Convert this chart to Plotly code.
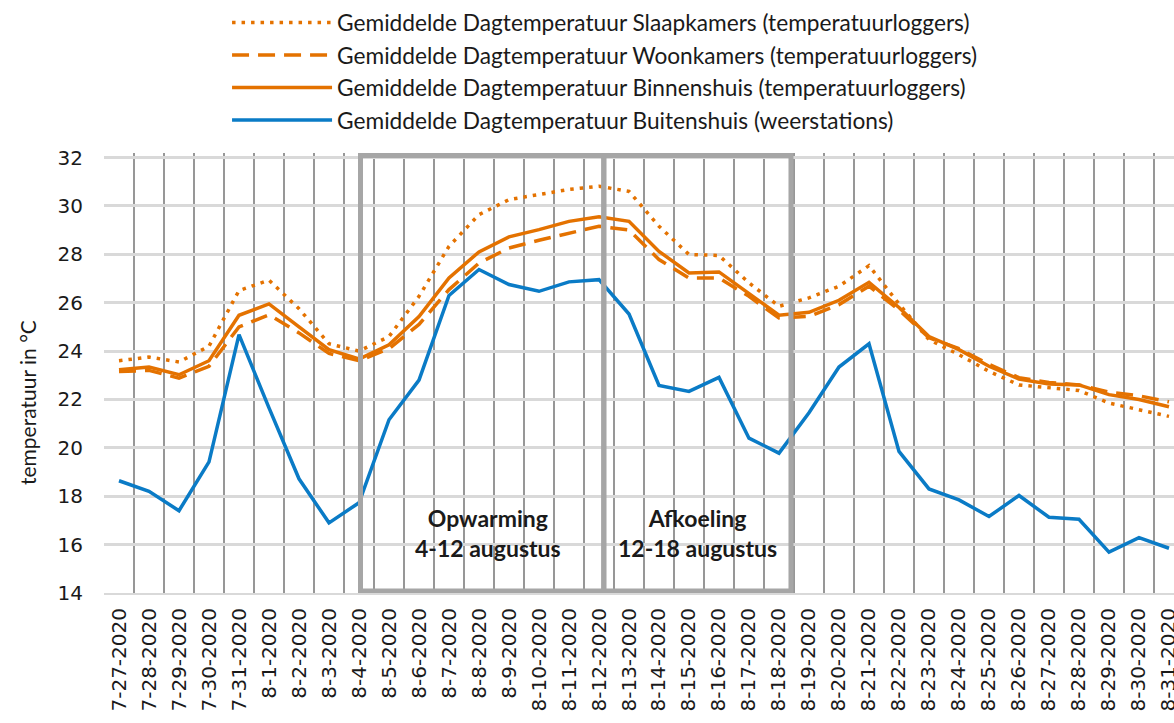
import plotly.graph_objects as go

dates = ["7-27-2020", "7-28-2020", "7-29-2020", "7-30-2020", "7-31-2020"] + \
        [f"8-{d}-2020" for d in range(1, 32)]

slaapkamers = [23.6, 23.75, 23.55, 24.2, 26.5, 26.93, 25.75, 24.3, 24.0,
               24.6, 26.26, 28.33, 29.64, 30.26, 30.47, 30.68, 30.81, 30.6,
               29.16, 27.99, 27.95, 26.82, 25.85, 26.2, 26.68, 27.53, 25.95,
               24.47, 23.85, 23.16, 22.6, 22.47, 22.37, 21.85, 21.57, 21.3]

woonkamers = [23.15, 23.2, 22.88, 23.37, 25.0, 25.5, 24.75, 23.9, 23.6,
              24.1, 25.1, 26.54, 27.64, 28.26, 28.58, 28.88, 29.16, 29.0,
              27.78, 27.02, 27.02, 26.26, 25.37, 25.43, 25.92, 26.68, 25.7,
              24.55, 24.1, 23.45, 22.9, 22.7, 22.6, 22.3, 22.15, 21.9]

binnenshuis = [23.23, 23.34, 23.02, 23.6, 25.48, 25.95, 25.0, 24.06, 23.67,
               24.26, 25.43, 27.02, 28.1, 28.72, 29.02, 29.36, 29.55, 29.36,
               28.12, 27.23, 27.27, 26.37, 25.48, 25.6, 26.1, 26.84, 25.8,
               24.6, 24.06, 23.37, 22.84, 22.64, 22.6, 22.2, 22.0, 21.7]

buitenshuis = [18.64, 18.2, 17.4, 19.42, 24.68, 21.65, 18.72, 16.9, 17.73,
               21.16, 22.8, 26.3, 27.37, 26.75, 26.47, 26.86, 26.95, 25.53,
               22.58, 22.33, 22.91, 20.4, 19.78, 21.45, 23.34, 24.3, 19.85,
               18.3, 17.85, 17.16, 18.03, 17.13, 17.05, 15.69, 16.29, 15.85]

names = [
    "Gemiddelde Dagtemperatuur Slaapkamers (temperatuurloggers)",
    "Gemiddelde Dagtemperatuur Woonkamers (temperatuurloggers)",
    "Gemiddelde Dagtemperatuur Binnenshuis (temperatuurloggers)",
    "Gemiddelde Dagtemperatuur Buitenshuis (weerstations)",
]

periods = [
    ("8-4-2020", "8-12-2020", "Opwarming<br>4-12 augustus"),
    ("8-12-2020", "8-18-2020", "Afkoeling<br>12-18 augustus"),
]

yticks = [14, 16, 18, 20, 22, 24, 26, 28, 30, 32]
ytitle = "temperatuur in °C"

ORANGE = "#e47200"
BLUE = "#0a7bc6"
BOX = "#a6a6a6"
TXT = "#1a1a1a"
LEGEND_FONT = "Lato"

fig = go.Figure()
series = [slaapkamers, woonkamers, binnenshuis, buitenshuis]
styles = [
    dict(color=ORANGE, width=3.5, dash="3.5px,6px"),
    dict(color=ORANGE, width=3.5, dash="17px,9px"),
    dict(color=ORANGE, width=3.5),
    dict(color=BLUE, width=3.5),
]
for i, (vals, nm, st) in enumerate(zip(series, names, styles)):
    fig.add_trace(go.Scatter(x=dates, y=vals, name=nm, mode="lines",
                             line=st, legendgroup=f"g{i}"))

idx = {d: i for i, d in enumerate(dates)}
offsets = [(0.05, 0.16), (0.16, 0.4)]
for (start, end, label), (o0, o1) in zip(periods, offsets):
    x0 = idx[start] + o0
    x1 = idx[end] + o1
    fig.add_shape(type="rect", xref="x", yref="y", x0=x0, x1=x1,
                  y0=14.08, y1=32.08, line=dict(color=BOX, width=5),
                  fillcolor="rgba(0,0,0,0)", layer="above")
    fig.add_annotation(x=(x0 + x1) / 2 + (0.2 if start == "8-4-2020" else 0),
                       y=16.5, xref="x", yref="y", text=f"<b>{label}</b>",
                       showarrow=False,
                       font=dict(family=LEGEND_FONT, size=23, color=TXT))

# y-axis title (placed like the original, slightly below the plot centre)
fig.add_annotation(x=-0.072, y=0.434, xref="paper", yref="paper",
                   text=ytitle, textangle=-90, showarrow=False,
                   xanchor="center", yanchor="middle",
                   font=dict(family=LEGEND_FONT, size=21, color=TXT))

fig.update_layout(
    width=1174, height=723,
    margin=dict(l=104, r=0, t=153, b=130, autoexpand=False),
    paper_bgcolor="white", plot_bgcolor="white",
    showlegend=True,
    legend=dict(x=0.115, y=1.345, xanchor="left", yanchor="top",
                font=dict(family=LEGEND_FONT, size=22.7, color=TXT),
                itemwidth=100, tracegroupgap=0, bgcolor="rgba(0,0,0,0)"),
    xaxis=dict(type="category", range=[-0.5, 35.167], tickson="boundaries",
               showgrid=True, gridcolor="#979797", gridwidth=1.5,
               tickangle=-90, ticks="", showline=True, linecolor="#d9d9d9",
               linewidth=2, automargin=False, ticklabelstandoff=5,
               tickfont=dict(family="DejaVu Sans", size=20, color=TXT)),
    yaxis=dict(range=[14, 32.186], tickvals=yticks, showgrid=True,
               gridcolor="#d9d9d9", gridwidth=2.5, zeroline=False,
               showline=False, ticks="", automargin=False,
               ticklabelstandoff=20,
               tickfont=dict(family="DejaVu Sans", size=20, color=TXT)),
)

fig.write_html("out.html",
               config={"displayModeBar": False},
               post_script="document.body.style.margin='0';"
                           "document.body.style.overflow='hidden';")
